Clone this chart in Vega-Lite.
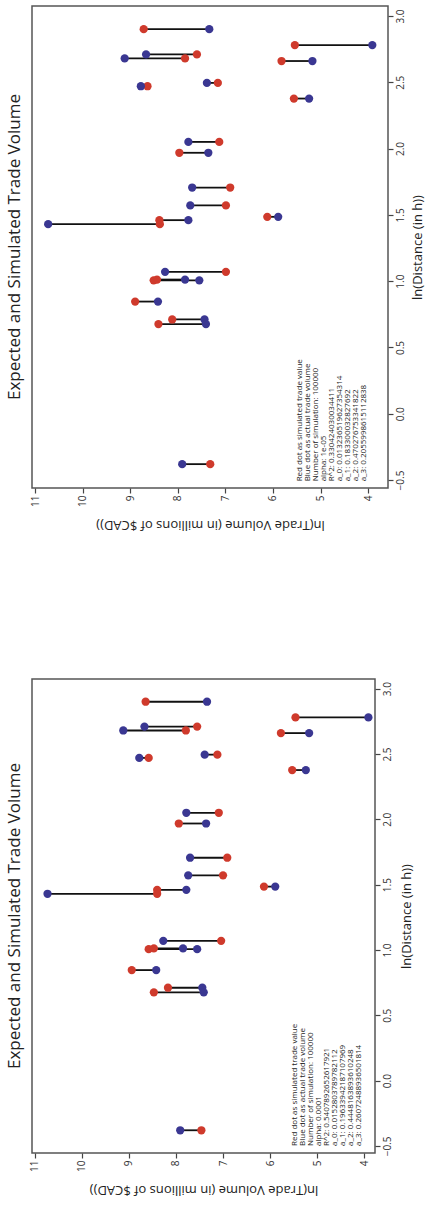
{
  "$schema": "https://vega.github.io/schema/vega-lite/v6.json",
  "background": "white",
  "padding": 5,
  "spacing": 146,
  "config": {
    "font": "Open Sans",
    "view": {"stroke": "#555555", "strokeWidth": 1.5},
    "axis": {"grid": false, "domain": false, "tickColor": "#444444", "tickSize": 5, "tickWidth": 1.2, "labelColor": "#333333", "labelFontSize": 10, "labelFont": "Open Sans", "titleFont": "Open Sans", "titleFontSize": 13, "titleFontWeight": "normal", "titleColor": "#222222"},
    "title": {"fontSize": 17, "fontWeight": "normal", "color": "#222222", "font": "Open Sans"}
  },
  "datasets": {
    "top": [
      {"d": 2.90, "sim": 8.72, "act": 7.34},
      {"d": 2.78, "sim": 5.54, "act": 3.91},
      {"d": 2.71, "sim": 7.60, "act": 8.67},
      {"d": 2.68, "sim": 7.85, "act": 9.12},
      {"d": 2.66, "sim": 5.82, "act": 5.17},
      {"d": 2.47, "sim": 8.64, "act": 8.78},
      {"d": 2.495, "sim": 7.16, "act": 7.39},
      {"d": 2.377, "sim": 5.56, "act": 5.24},
      {"d": 2.05, "sim": 7.13, "act": 7.78},
      {"d": 1.968, "sim": 7.97, "act": 7.36},
      {"d": 1.706, "sim": 6.90, "act": 7.70},
      {"d": 1.571, "sim": 6.99, "act": 7.74},
      {"d": 1.485, "sim": 6.12, "act": 5.89},
      {"d": 1.46, "sim": 8.39, "act": 7.78},
      {"d": 1.43, "sim": 8.38, "act": 10.73},
      {"d": 1.07, "sim": 6.99, "act": 8.27},
      {"d": 1.006, "sim": 8.51, "act": 7.55},
      {"d": 1.012, "sim": 8.44, "act": 7.85},
      {"d": 0.846, "sim": 8.90, "act": 8.42},
      {"d": 0.711, "sim": 8.12, "act": 7.44},
      {"d": 0.676, "sim": 8.41, "act": 7.41},
      {"d": -0.38, "sim": 7.32, "act": 7.91}
    ],
    "bottom": [
      {"d": 2.90, "sim": 8.645, "act": 7.34},
      {"d": 2.78, "sim": 5.46, "act": 3.91},
      {"d": 2.71, "sim": 7.55, "act": 8.67},
      {"d": 2.68, "sim": 7.79, "act": 9.12},
      {"d": 2.66, "sim": 5.77, "act": 5.17},
      {"d": 2.47, "sim": 8.58, "act": 8.78},
      {"d": 2.495, "sim": 7.12, "act": 7.39},
      {"d": 2.377, "sim": 5.53, "act": 5.24},
      {"d": 2.05, "sim": 7.09, "act": 7.78},
      {"d": 1.968, "sim": 7.94, "act": 7.36},
      {"d": 1.706, "sim": 6.91, "act": 7.70},
      {"d": 1.571, "sim": 7.00, "act": 7.74},
      {"d": 1.485, "sim": 6.13, "act": 5.89},
      {"d": 1.46, "sim": 8.40, "act": 7.78},
      {"d": 1.43, "sim": 8.40, "act": 10.73},
      {"d": 1.07, "sim": 7.04, "act": 8.27},
      {"d": 1.006, "sim": 8.58, "act": 7.55},
      {"d": 1.012, "sim": 8.47, "act": 7.85},
      {"d": 0.846, "sim": 8.94, "act": 8.42},
      {"d": 0.711, "sim": 8.17, "act": 7.44},
      {"d": 0.676, "sim": 8.47, "act": 7.41},
      {"d": -0.38, "sim": 7.46, "act": 7.91}
    ],
    "note_top": [
      {"lines": ["Red dot as simulated trade value", "Blue dot as actual trade volume", "Number of simulation: 100000", "alpha: 1e-05", "R^2: 0.330424030034411", "a_0: 0.013236519627354314", "a_1: 0.183300032827692", "a_2: 0.470276753341822", "a_3: 0.2055998615112838"]}
    ],
    "note_bottom": [
      {"lines": ["Red dot as simulated trade value", "Blue dot as actual trade volume", "Number of simulation: 100000", "alpha: 0.0001", "R^2: 0.5407892652617921", "a_0: 0.0152803789782112", "a_1: 0.19633942187107969", "a_2: 0.4448163893610248", "a_3: 0.26072488936501814"]}
    ]
  },
  "vconcat": [
    {
      "title": {"text": "Expected and Simulated Trade Volume", "orient": "left", "anchor": "middle", "offset": 6},
      "width": 356,
      "height": 482,
      "layer": [
        {
          "data": {"name": "top"},
          "mark": {"type": "rule", "color": "#111111", "strokeWidth": 1.8},
          "encoding": {
            "y": {"field": "d", "type": "quantitative", "scale": {"domain": [-0.56, 3.075], "nice": false, "zero": false}, "axis": {"orient": "right", "values": [-0.5, 0, 0.5, 1, 1.5, 2, 2.5, 3], "format": ".1f", "labelAngle": 270, "labelAlign": "center", "labelBaseline": "top", "title": "ln(Distance (in h))", "titleAngle": 270, "titleBaseline": "top", "titlePadding": 6}},
            "x": {"field": "sim", "type": "quantitative", "scale": {"domain": [3.58, 11.07], "nice": false, "zero": false, "reverse": true}, "axis": {"orient": "bottom", "values": [4, 5, 6, 7, 8, 9, 10, 11], "format": "d", "labelAngle": 270, "labelAlign": "right", "labelBaseline": "middle", "title": "ln(Trade Volume (in millions of $CAD))", "titleAngle": 180, "titleBaseline": "bottom", "titlePadding": 11}},
            "x2": {"field": "act"}
          }
        },
        {
          "data": {"name": "top"},
          "mark": {"type": "circle", "size": 68, "opacity": 1, "color": "#cf3a2c"},
          "encoding": {
            "y": {"field": "d", "type": "quantitative"},
            "x": {"field": "sim", "type": "quantitative", "title": "ln(Trade Volume (in millions of $CAD))"}
          }
        },
        {
          "data": {"name": "top"},
          "mark": {"type": "circle", "size": 68, "opacity": 1, "color": "#3a3792"},
          "encoding": {
            "y": {"field": "d", "type": "quantitative"},
            "x": {"field": "act", "type": "quantitative", "title": "ln(Trade Volume (in millions of $CAD))"}
          }
        },
        {
          "data": {"name": "note_top"},
          "mark": {"type": "text", "angle": 270, "align": "left", "baseline": "top", "fontSize": 8, "lineHeight": 8, "color": "#222222"},
          "encoding": {
            "x": {"datum": 5.52, "type": "quantitative"},
            "y": {"datum": -0.51, "type": "quantitative"},
            "text": {"field": "lines"}
          }
        }
      ]
    },
    {
      "title": {"text": "Expected and Simulated Trade Volume", "orient": "left", "anchor": "middle", "offset": 6},
      "width": 343,
      "height": 474,
      "layer": [
        {
          "data": {"name": "bottom"},
          "mark": {"type": "rule", "color": "#111111", "strokeWidth": 1.8},
          "encoding": {
            "y": {"field": "d", "type": "quantitative", "scale": {"domain": [-0.554, 3.074], "nice": false, "zero": false}, "axis": {"orient": "right", "values": [-0.5, 0, 0.5, 1, 1.5, 2, 2.5, 3], "format": ".1f", "labelAngle": 270, "labelAlign": "center", "labelBaseline": "top", "title": "ln(Distance (in h))", "titleAngle": 270, "titleBaseline": "top", "titlePadding": 8}},
            "x": {"field": "sim", "type": "quantitative", "scale": {"domain": [3.77, 11.06], "nice": false, "zero": false, "reverse": true}, "axis": {"orient": "bottom", "values": [4, 5, 6, 7, 8, 9, 10, 11], "format": "d", "labelAngle": 270, "labelAlign": "right", "labelBaseline": "middle", "title": "ln(Trade Volume (in millions of $CAD))", "titleAngle": 180, "titleBaseline": "bottom", "titlePadding": 11}},
            "x2": {"field": "act"}
          }
        },
        {
          "data": {"name": "bottom"},
          "mark": {"type": "circle", "size": 68, "opacity": 1, "color": "#cf3a2c"},
          "encoding": {
            "y": {"field": "d", "type": "quantitative"},
            "x": {"field": "sim", "type": "quantitative", "title": "ln(Trade Volume (in millions of $CAD))"}
          }
        },
        {
          "data": {"name": "bottom"},
          "mark": {"type": "circle", "size": 68, "opacity": 1, "color": "#3a3792"},
          "encoding": {
            "y": {"field": "d", "type": "quantitative"},
            "x": {"field": "act", "type": "quantitative", "title": "ln(Trade Volume (in millions of $CAD))"}
          }
        },
        {
          "data": {"name": "note_bottom"},
          "mark": {"type": "text", "angle": 270, "align": "left", "baseline": "top", "fontSize": 8, "lineHeight": 8, "color": "#222222"},
          "encoding": {
            "x": {"datum": 5.55, "type": "quantitative"},
            "y": {"datum": -0.5, "type": "quantitative"},
            "text": {"field": "lines"}
          }
        }
      ]
    }
  ]
}
